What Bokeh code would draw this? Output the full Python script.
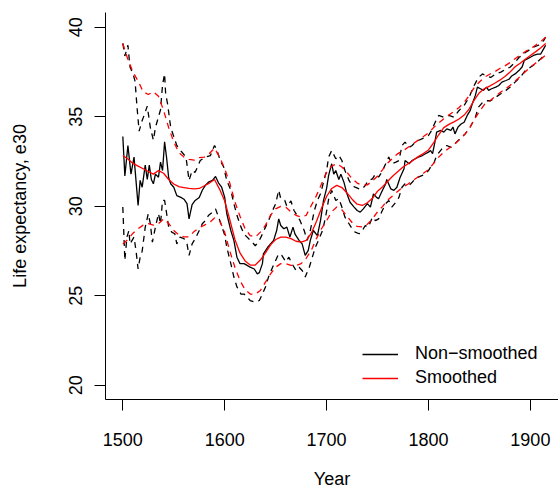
from bokeh.plotting import figure
from bokeh.models import Range1d, FixedTicker, Legend, LegendItem
from bokeh.embed import file_html
from bokeh.resources import INLINE

# ---------------- data ----------------
x_ticks = [1500, 1600, 1700, 1800, 1900]
y_ticks = [20, 25, 30, 35, 40]

# Non-smoothed annual series (black solid)
ns_year = [
    1500, 1502, 1505, 1508, 1511, 1515, 1517, 1519, 1522, 1524,
    1526, 1528, 1530, 1532, 1535, 1537, 1539, 1541, 1543, 1545,
    1547, 1550, 1553, 1557, 1560, 1563, 1565, 1568, 1571, 1575,
    1578, 1581, 1584, 1588, 1591, 1594, 1597, 1600, 1602, 1606,
    1609, 1612, 1615, 1619, 1622, 1625, 1629, 1632, 1634, 1637,
    1638, 1642, 1645, 1648, 1651, 1653, 1655, 1658, 1661, 1664,
    1667, 1669, 1673, 1676, 1679, 1682, 1684, 1687, 1691, 1694,
    1697, 1700, 1702, 1705, 1707, 1709, 1712, 1714, 1717, 1720,
    1723, 1727, 1730, 1733, 1736, 1740, 1743, 1746, 1749, 1751,
    1754, 1758, 1759, 1763, 1766, 1769, 1772, 1776, 1777, 1781,
    1784, 1787, 1790, 1794, 1797, 1800, 1802, 1804, 1806, 1808,
    1812, 1815, 1818, 1822, 1824, 1826, 1829, 1832, 1835, 1838,
    1841, 1843, 1846, 1848, 1851, 1854, 1857, 1859, 1862, 1866,
    1869, 1872, 1876, 1879, 1882, 1885, 1889, 1892, 1894, 1897,
    1900, 1903, 1907, 1910, 1913, 1915]
ns_e30 = [
    33.9, 31.7, 33.4, 31.8, 32.75, 30.05, 31.45, 31.07, 32.3, 31.5,
    32.3, 31.5, 31.26, 31.8, 31.63, 32.47, 32.0, 33.6, 32.7, 31.6,
    31.26, 31.07, 30.6, 30.5, 30.4, 30.15, 29.3, 30.1, 30.33, 30.5,
    30.9, 31.17, 31.35, 31.45, 31.67, 31.3, 31.07, 30.5, 29.6, 28.65,
    28.1, 27.16, 26.8, 26.8, 26.7, 26.6, 26.5, 26.23, 26.3, 26.8,
    27.35, 27.7, 27.9, 28.1, 28.65, 29.3, 28.93, 28.75, 28.84, 28.28,
    28.84, 28.45, 28.1, 27.9, 27.26, 27.54, 28.1, 28.65, 28.37, 29.2,
    30.33, 31.0, 31.73, 32.38, 31.8, 32.0, 31.5, 31.8, 31.35, 30.7,
    30.23, 29.96, 29.77, 29.68, 29.86, 30.15, 29.96, 30.7, 30.5, 30.43,
    30.8, 31.26, 31.5, 30.98, 30.89, 31.07, 31.6, 32.1, 32.56, 32.38,
    32.56, 32.66, 32.75, 32.84, 32.94, 33.03, 33.12, 32.94, 33.5, 34.15,
    34.24, 34.15, 34.33, 34.24, 34.43, 34.05, 34.43, 34.6, 34.7, 35.08,
    35.36, 35.73, 36.2, 36.66, 36.57, 36.48, 36.66, 36.48, 36.57, 36.66,
    36.75, 36.94, 37.03, 37.1, 37.3, 37.4, 37.6, 37.8, 38.15, 38.24,
    38.33, 38.43, 38.5, 38.5, 38.8, 39.0]

# Upper band of the non-smoothed series (black dashed)
nshi_year = [
    1500, 1502, 1505, 1507, 1510, 1512, 1514, 1516, 1519, 1521,
    1524, 1525, 1527, 1530, 1532, 1535, 1537, 1539, 1541, 1542,
    1544, 1547, 1550, 1553, 1557, 1562, 1565, 1568, 1571, 1576,
    1581, 1586, 1590, 1592, 1596, 1599, 1602, 1606, 1609, 1612,
    1616, 1619, 1622, 1627, 1630, 1634, 1637, 1640, 1643, 1647,
    1650, 1653, 1655, 1659, 1661, 1665, 1668, 1671, 1674, 1678,
    1681, 1684, 1688, 1691, 1694, 1697, 1700, 1702, 1705, 1709,
    1712, 1715, 1718, 1722, 1725, 1728, 1732, 1735, 1738, 1741,
    1745, 1748, 1751, 1754, 1758, 1761, 1764, 1768, 1771, 1774,
    1777, 1781, 1784, 1787, 1790, 1794, 1797, 1800, 1803, 1807,
    1810, 1815, 1820, 1825, 1830, 1835, 1840, 1844, 1849, 1853,
    1856, 1861, 1866, 1871, 1876, 1880, 1885, 1889, 1892, 1895,
    1898, 1903, 1908, 1913, 1915]
nshi_e30 = [
    39.1, 38.4, 39.0, 37.8, 37.4, 37.0, 35.5, 34.2, 34.8, 35.1,
    35.6, 35.2, 34.4, 33.7, 34.4, 35.0, 35.4, 36.8, 37.4, 36.3,
    35.7, 34.4, 33.9, 33.4, 33.1, 32.75, 31.45, 32.0, 31.9, 32.56,
    32.75, 32.84, 33.4, 33.2, 32.5, 32.2, 31.45, 30.9, 30.15, 29.5,
    28.84, 28.45, 28.28, 28.0, 27.8, 28.1, 28.45, 28.84, 29.2, 29.77,
    30.15, 30.9, 30.43, 30.33, 30.0, 30.3, 29.77, 29.5, 29.2, 28.65,
    28.1, 28.65, 29.77, 30.33, 30.7, 31.35, 32.0, 32.75, 33.12, 32.66,
    32.84, 32.56, 32.0, 31.45, 31.17, 31.07, 30.98, 30.98, 31.17, 31.45,
    31.54, 31.82, 31.63, 31.9, 32.38, 32.75, 32.38, 32.47, 32.56, 33.4,
    33.59, 33.3, 33.4, 33.59, 33.68, 33.78, 33.87, 33.96, 34.24, 34.75,
    35.08, 34.98, 35.08, 34.98, 35.36, 35.64, 36.1, 36.66, 37.2, 37.4,
    37.3, 37.2, 37.4, 37.5, 37.67, 37.77, 38.05, 38.33, 38.43, 38.6,
    38.7, 38.9, 39.0, 39.26, 39.45]

# Lower band of the non-smoothed series (black dashed)
nslo_year = [
    1500, 1502, 1504, 1506, 1507, 1511, 1513, 1515, 1517, 1519,
    1522, 1525, 1527, 1529, 1532, 1535, 1537, 1539, 1541, 1543,
    1545, 1548, 1551, 1553, 1556, 1560, 1563, 1565, 1568, 1571,
    1575, 1578, 1581, 1584, 1588, 1591, 1594, 1597, 1600, 1602,
    1606, 1609, 1612, 1616, 1619, 1622, 1625, 1630, 1634, 1637,
    1640, 1643, 1647, 1650, 1653, 1656, 1660, 1663, 1666, 1670,
    1673, 1676, 1679, 1683, 1686, 1689, 1692, 1696, 1699, 1702,
    1705, 1709, 1712, 1715, 1718, 1722, 1725, 1728, 1732, 1735,
    1738, 1741, 1745, 1748, 1751, 1754, 1758, 1761, 1764, 1768,
    1771, 1774, 1777, 1781, 1784, 1787, 1790, 1794, 1797, 1800,
    1802, 1805, 1808, 1813, 1818, 1822, 1826, 1831, 1836, 1841,
    1846, 1849, 1853, 1856, 1861, 1866, 1871, 1876, 1880, 1885,
    1890, 1895, 1900, 1905, 1910, 1915]
nslo_e30 = [
    29.96, 26.98, 28.28, 28.65, 27.9, 28.28, 27.5, 26.5, 27.16, 27.5,
    28.84, 29.59, 29.03, 28.0, 28.84, 29.6, 29.03, 30.33, 30.33, 29.6,
    28.84, 28.56, 28.47, 27.9, 28.28, 28.2, 27.9, 27.26, 27.9, 28.19,
    28.65, 29.03, 29.2, 29.49, 29.68, 29.86, 29.4, 28.9, 28.4, 27.72,
    26.8, 26.05, 25.5, 25.1, 25.1, 24.93, 24.74, 24.65, 24.74, 25.1,
    25.5, 26.05, 26.6, 26.98, 27.35, 27.26, 26.9, 27.16, 26.8, 26.42,
    26.6, 26.42, 26.05, 26.6, 27.16, 27.72, 28.1, 28.65, 29.4, 30.4,
    30.89, 30.33, 30.43, 29.96, 29.4, 29.03, 28.75, 28.56, 28.47, 28.65,
    28.93, 28.84, 29.4, 29.2, 29.3, 29.68, 30.15, 30.33, 29.96, 30.23,
    30.5, 31.07, 31.26, 31.17, 31.35, 31.54, 31.63, 31.73, 31.82, 32.0,
    32.19, 32.37, 32.84, 33.2, 33.4, 33.3, 33.5, 33.78, 34.05, 34.43,
    34.98, 35.54, 35.8, 35.9, 35.9, 36.1, 36.29, 36.48, 36.66, 36.94,
    37.2, 37.58, 37.77, 37.96, 38.24, 38.5]

# Smoothed series and its band (red), every 5 years 1500..1915
sm_year = list(range(1500, 1916, 5))
sm_e30 = [
    32.84, 32.65, 32.4, 32.25, 32.1, 31.95, 31.8, 32.0, 31.85, 31.5,
    31.25, 31.1, 31.05, 31.0, 30.98, 31.0, 31.15, 31.3, 31.5, 30.95,
    30.3, 29.25, 28.15, 27.4, 26.95, 26.72, 26.72, 27.0, 27.4, 27.85,
    28.15, 28.28, 28.28, 28.2, 28.05, 28.0, 28.1, 28.5, 29.15, 29.9,
    30.55, 31.0, 31.17, 31.05, 30.75, 30.4, 30.12, 30.05, 30.2, 30.45,
    30.85, 31.1, 31.4, 31.7, 31.95, 32.2, 32.38, 32.58, 32.78, 32.95,
    33.15, 33.55, 34.0, 34.4, 34.58, 34.72, 34.88, 35.1, 35.45, 35.95,
    36.35, 36.58, 36.72, 36.88, 37.05, 37.25, 37.5, 37.8, 38.0, 38.22,
    38.43, 38.63, 38.85, 39.1]
sm_hi = [
    39.1, 38.2, 37.5, 37.0, 36.4, 36.25, 36.4, 36.15, 35.36, 34.4,
    33.6, 33.0, 32.75, 32.62, 32.58, 32.72, 32.75, 32.95, 33.25, 32.75,
    32.1, 31.3, 30.25, 29.45, 28.75, 28.37, 28.28, 28.56, 28.95, 29.5,
    29.86, 30.0, 29.95, 29.7, 29.5, 29.4, 29.5, 30.05, 30.6, 31.25,
    31.9, 32.25, 32.38, 32.2, 31.9, 31.55, 31.3, 31.17, 31.2, 31.42,
    31.7, 32.05, 32.42, 32.7, 32.95, 33.1, 33.3, 33.5, 33.7, 33.9,
    34.1, 34.4, 34.65, 34.89, 35.1, 35.3, 35.52, 35.8, 36.2, 36.65,
    36.95, 37.22, 37.38, 37.52, 37.7, 37.85, 38.03, 38.25, 38.45, 38.65,
    38.8, 39.0, 39.2, 39.45]
sm_lo = [
    27.9, 28.15, 28.5, 28.75, 28.95, 29.03, 28.95, 29.03, 29.3, 29.05,
    28.65, 28.4, 28.3, 28.3, 28.6, 28.8, 28.95, 29.1, 29.35, 29.2,
    28.55, 27.5, 26.6, 25.85, 25.35, 25.1, 25.1, 25.3, 25.77, 26.23,
    26.6, 26.8, 26.8, 26.7, 26.7, 26.8, 27.1, 27.55, 28.2, 28.75,
    29.2, 29.7, 29.96, 29.8, 29.45, 29.1, 28.88, 28.85, 29.0, 29.3,
    29.7, 30.0, 30.35, 30.6, 30.85, 31.08, 31.25, 31.45, 31.65, 31.85,
    32.05, 32.4, 32.75, 33.03, 33.25, 33.45, 33.7, 33.98, 34.35, 34.85,
    35.3, 35.7, 35.88, 36.12, 36.35, 36.55, 36.75, 37.0, 37.25, 37.52,
    37.77, 38.0, 38.2, 38.45]

assert len(ns_year) == len(ns_e30)
assert len(nshi_year) == len(nshi_e30)
assert len(nslo_year) == len(nslo_e30)
assert len(sm_year) == len(sm_e30) == len(sm_hi) == len(sm_lo)

# ---------------- figure ----------------
FONT = "Liberation Sans"
p = figure(width=558, height=494,
           x_range=Range1d(1483.0, 1927.6), y_range=Range1d(19.21, 40.83),
           output_backend="svg", toolbar_location=None,
           min_border_left=105, min_border_right=0,
           min_border_top=12, min_border_bottom=95)
p.background_fill_color = "white"
p.border_fill_color = "white"
p.outline_line_color = None
p.xgrid.visible = False
p.ygrid.visible = False

for ax in (p.xaxis[0], p.yaxis[0]):
    ax.axis_line_color = "black"
    ax.axis_line_width = 1
    ax.major_tick_line_color = "black"
    ax.major_tick_in = 0
    ax.major_tick_out = 11
    ax.minor_tick_in = 0
    ax.minor_tick_out = 0
    ax.major_label_text_font = FONT
    ax.major_label_text_font_size = "18px"
    ax.major_label_text_color = "black"
    ax.axis_label_text_font = FONT
    ax.axis_label_text_font_size = "18px"
    ax.axis_label_text_font_style = "normal"
    ax.axis_label_text_color = "black"

p.xaxis.ticker = FixedTicker(ticks=x_ticks)
p.yaxis.ticker = FixedTicker(ticks=y_ticks)
p.xaxis.axis_label = "Year"
p.yaxis.axis_label = "Life expectancy, e30"
p.xaxis.major_label_standoff = 22
p.xaxis.axis_label_standoff = 20
p.yaxis.major_label_standoff = 12
p.yaxis.axis_label_standoff = 37
p.yaxis.major_label_orientation = "vertical"

LW = 1.3
DASH = "6 5"
r_ns = p.line(ns_year, ns_e30, line_color="black", line_width=LW)
p.line(nshi_year, nshi_e30, line_color="black", line_width=LW, line_dash=DASH)
p.line(nslo_year, nslo_e30, line_color="black", line_width=LW, line_dash=DASH)
r_sm = p.line(sm_year, sm_e30, line_color="red", line_width=LW)
p.line(sm_year, sm_hi, line_color="red", line_width=LW, line_dash=DASH)
p.line(sm_year, sm_lo, line_color="red", line_width=LW, line_dash=DASH)

legend = Legend(items=[LegendItem(label="Non\u2212smoothed", renderers=[r_ns]),
                       LegendItem(label="Smoothed", renderers=[r_sm])],
                location=(257, 11), orientation="vertical",
                border_line_color=None, background_fill_alpha=0,
                padding=0, margin=0, spacing=3,
                glyph_width=36, glyph_height=20, label_height=20,
                label_standoff=17, label_text_font=FONT,
                label_text_font_size="18px", label_text_color="black")
p.add_layout(legend)

open("out.html", "w").write(file_html(p, INLINE))
